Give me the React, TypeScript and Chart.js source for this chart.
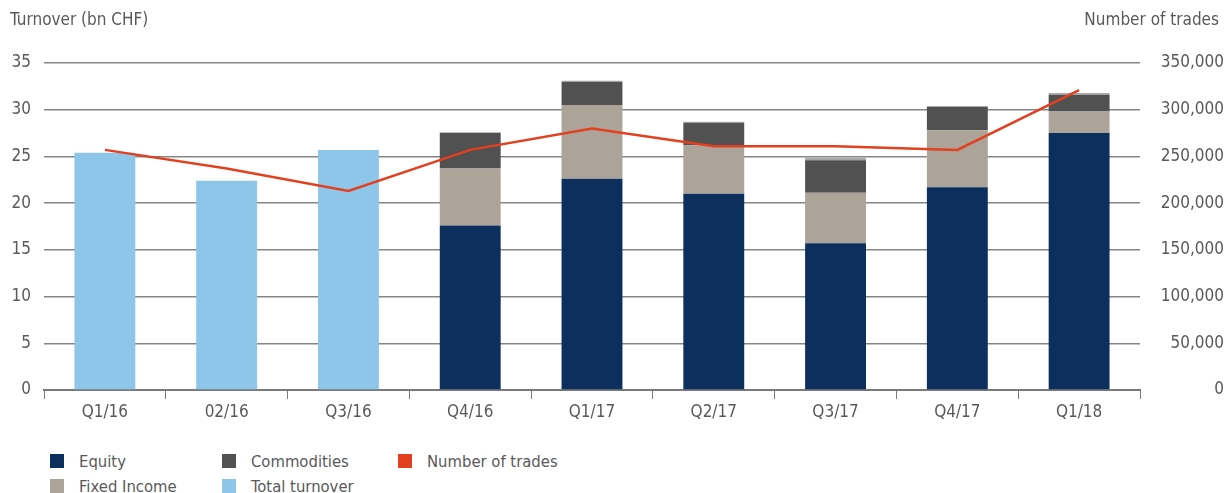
import React, { useEffect, useRef } from 'react';
import { Chart, registerables } from 'chart.js';

Chart.register(...registerables);

const categories = ['Q1/16', '02/16', 'Q3/16', 'Q4/16', 'Q1/17', 'Q2/17', 'Q3/17', 'Q4/17', 'Q1/18'];
const totalTurnover = [25.4, 22.4, 25.7, null, null, null, null, null, null];
const equity = [null, null, null, 17.6, 22.6, 21.0, 15.7, 21.7, 27.5];
const fixedIncome = [null, null, null, 6.1, 7.9, 5.2, 5.4, 6.1, 2.3];
const commodities = [null, null, null, 3.8, 2.5, 2.4, 3.5, 2.5, 1.8];
const other = [null, null, null, 0.1, 0.1, 0.1, 0.25, 0.1, 0.2];
const numberOfTrades = [257000, 237000, 213000, 257000, 280000, 261000, 261000, 257000, 321000];
const leftTicks = [0, 5, 10, 15, 20, 25, 30, 35];
const rightTicks = [0, 50000, 100000, 150000, 200000, 250000, 300000, 350000];

const FONT = '"DejaVu Sans Condensed", "Liberation Sans Narrow", Arial, sans-serif';
const TEXT = '#595959';
const COLORS = {
  equity: '#0d2f5e',
  fixed: '#aca399',
  comm: '#515151',
  total: '#8ec6ea',
  other: '#a9a9a9',
  trades: '#e2401f',
};

const legendItems = [
  { label: 'Equity', color: COLORS.equity, x: 50, y: 461 },
  { label: 'Fixed Income', color: COLORS.fixed, x: 50, y: 486 },
  { label: 'Commodities', color: COLORS.comm, x: 222, y: 461 },
  { label: 'Total turnover', color: COLORS.total, x: 222, y: 486 },
  { label: 'Number of trades', color: COLORS.trades, x: 398, y: 461 },
];

const titlePlugin = {
  id: 'titles',
  afterDraw(chart: any) {
    const ctx = chart.ctx;
    ctx.save();
    ctx.font = `17px ${FONT}`;
    ctx.fillStyle = TEXT;
    ctx.textBaseline = 'middle';
    ctx.textAlign = 'left';
    ctx.fillText('Turnover (bn CHF)', 10, 21);
    ctx.textAlign = 'right';
    ctx.fillText('Number of trades', 1219, 21);
    ctx.restore();
  },
};

export default function App() {
  const ref = useRef<HTMLCanvasElement>(null);

  useEffect(() => {
    document.body.style.margin = '0';
    const canvas = ref.current!;
    const stackBar = (label: string, data: any[], color: string) => ({
      type: 'bar' as const,
      label,
      data,
      backgroundColor: color,
      stack: 's',
      yAxisID: 'y',
      order: 1,
      categoryPercentage: 1,
      barPercentage: 0.5,
      borderWidth: 0,
    });
    const chart = new Chart(canvas, {
      type: 'bar',
      data: {
        labels: categories,
        datasets: [
          {
            type: 'line',
            label: 'Number of trades',
            data: numberOfTrades,
            borderColor: COLORS.trades,
            backgroundColor: COLORS.trades,
            borderWidth: 2.5,
            pointRadius: 0,
            tension: 0,
            yAxisID: 'y1',
            order: 0,
          } as any,
          stackBar('Total turnover', totalTurnover, COLORS.total),
          stackBar('Equity', equity, COLORS.equity),
          stackBar('Fixed Income', fixedIncome, COLORS.fixed),
          stackBar('Commodities', commodities, COLORS.comm),
          stackBar('Other', other, COLORS.other),
        ],
      },
      options: {
        animation: false,
        responsive: false,
        layout: { padding: { top: 63, bottom: 0, left: 0, right: 0 } },
        plugins: {
          legend: { display: false },
          tooltip: { enabled: false },
        },
        scales: {
          x: {
            stacked: true,
            border: { display: true, color: '#7a7a7a', width: 2 },
            grid: {
              display: true,
              offset: true,
              drawOnChartArea: false,
              drawTicks: true,
              tickLength: 9,
              color: '#7a7a7a',
              lineWidth: 1,
            },
            ticks: {
              color: TEXT,
              font: { family: FONT, size: 17 },
              padding: 3,
              maxRotation: 0,
            },
            afterFit(scale: any) {
              scale.height = 40;
            },
          },
          y: {
            position: 'left',
            stacked: true,
            min: 0,
            max: 35,
            border: { display: false },
            grid: {
              color: '#858585',
              lineWidth: 1.5,
              drawTicks: false,
            },
            ticks: {
              stepSize: 5,
              color: TEXT,
              font: { family: FONT, size: 17 },
              padding: 13,
              callback: (v: any) => (leftTicks.includes(Number(v)) ? String(v) : ''),
            },
            afterFit(scale: any) {
              scale.width = 44;
            },
          },
          y1: {
            position: 'right',
            min: 0,
            max: 350000,
            border: { display: false },
            grid: { drawOnChartArea: false, drawTicks: false },
            ticks: {
              stepSize: 50000,
              color: TEXT,
              font: { family: FONT, size: 17 },
              padding: 14,
              crossAlign: 'far',
              callback: (v: any) =>
                rightTicks.includes(Number(v)) ? Number(v).toLocaleString('en-US') : '',
            },
            afterFit(scale: any) {
              scale.width = 84;
            },
          },
        },
      } as any,
      plugins: [titlePlugin],
    });
    return () => chart.destroy();
  }, []);

  return (
    <div style={{ position: 'relative', width: 1224, height: 493, background: '#fff' }}>
      <canvas ref={ref} width={1224} height={430} style={{ display: 'block', width: 1224, height: 430 }} />
      {legendItems.map((it) => (
        <div
          key={it.label}
          style={{
            position: 'absolute',
            left: it.x,
            top: it.y - 10,
            height: 20,
            display: 'flex',
            alignItems: 'center',
            fontFamily: FONT,
            fontSize: 16.5,
            color: TEXT,
            whiteSpace: 'nowrap',
          }}
        >
          <span style={{ display: 'inline-block', width: 14, height: 14, background: it.color, marginRight: 15 }} />
          <span>{it.label}</span>
        </div>
      ))}
    </div>
  );
}
